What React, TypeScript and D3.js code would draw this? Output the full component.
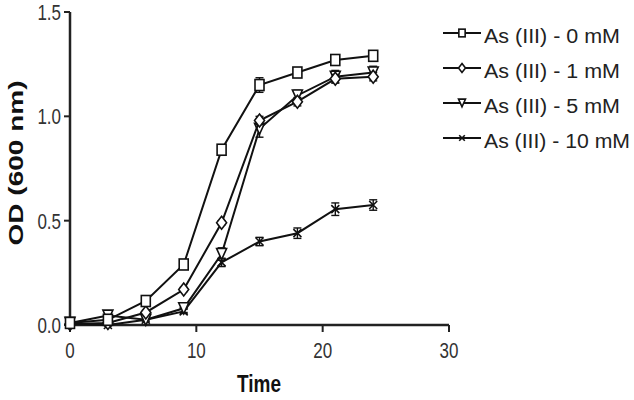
import React from "react";
import * as d3 from "d3";

const time = [0, 3, 6, 9, 12, 15, 18, 21, 24];
const od0 = [0.01, 0.025, 0.115, 0.29, 0.84, 1.15, 1.21, 1.27, 1.29];
const od1 = [0.005, 0.01, 0.06, 0.17, 0.49, 0.98, 1.07, 1.18, 1.19];
const od5 = [0.01, 0.045, 0.025, 0.08, 0.34, 0.94, 1.1, 1.19, 1.21];
const od10 = [0.005, 0.0, 0.025, 0.065, 0.3, 0.4, 0.44, 0.555, 0.575];
const err0 = [0, 0.005, 0.01, 0.01, 0.02, 0.035, 0.01, 0.01, 0.015];
const err1 = [0, 0.005, 0.01, 0.01, 0.01, 0.02, 0.02, 0.02, 0.02];
const err5 = [0, 0.01, 0.01, 0.02, 0.03, 0.04, 0.025, 0.03, 0.03];
const err10 = [0, 0.005, 0.005, 0.01, 0.02, 0.02, 0.025, 0.03, 0.025];
const seriesNames = ["As (III) - 0 mM", "As (III) - 1 mM", "As (III) - 5 mM", "As (III) - 10 mM"];
const markerTypes = ["square", "diamond", "triangle", "cross"];
const xTicks = [0, 10, 20, 30];
const yTicks = [0, 0.5, 1.0, 1.5];
const yTickLabels = ["0.0", "0.5", "1.0", "1.5"];
const xTitle = "Time";
const yTitle = "OD (600 nm)";

const values = [od0, od1, od5, od10];
const errors = [err0, err1, err5, err10];

const x = d3.scaleLinear().domain([0, 30]).range([70, 449]);
const y = d3.scaleLinear().domain([0, 1.5]).range([325, 12]);
const line = d3
  .line<[number, number]>()
  .x((d) => x(d[0]))
  .y((d) => y(d[1]));

const INK = "#111";
const FONT = "Liberation Sans, Arial, sans-serif";

function Marker({ type, cx, cy, s }: { type: string; cx: number; cy: number; s: number }) {
  if (type === "square") {
    return (
      <rect x={cx - 4.5 * s} y={cy - 5.5 * s} width={9 * s} height={11 * s} fill="#fff" stroke={INK} strokeWidth={1.6} />
    );
  }
  if (type === "diamond") {
    const w = 5 * s, h = 6.5 * s;
    return (
      <path d={`M${cx},${cy - h}L${cx + w},${cy}L${cx},${cy + h}L${cx - w},${cy}Z`} fill="#fff" stroke={INK} strokeWidth={1.6} />
    );
  }
  if (type === "triangle") {
    const w = 5 * s, h = 5.5 * s;
    return (
      <path d={`M${cx - w},${cy - h}L${cx + w},${cy - h}L${cx},${cy + h}Z`} fill="#fff" stroke={INK} strokeWidth={1.6} />
    );
  }
  const r = 4 * s;
  return (
    <path d={`M${cx - r},${cy - r}L${cx + r},${cy + r}M${cx - r},${cy + r}L${cx + r},${cy - r}`} stroke={INK} strokeWidth={1.6} fill="none" />
  );
}

export default function App() {
  const order = [3, 2, 1, 0];
  return (
    <svg width={634} height={400} style={{ position: "absolute", left: 0, top: 0, background: "#fff" }} fontFamily={FONT}>
      {/* axes */}
      <line x1={x(0)} x2={x(0)} y1={y(1.5)} y2={y(0)} stroke="#222" strokeWidth={2.5} />
      <line x1={x(0)} x2={x(30)} y1={y(0)} y2={y(0)} stroke="#222" strokeWidth={2.5} />
      {yTicks.map((v, i) => (
        <g key={"yt" + i}>
          <line x1={x(0) - 6} x2={x(0)} y1={y(v)} y2={y(v)} stroke="#222" strokeWidth={2} />
          <text
            transform={`translate(61,${y(v)}) scale(1,1.3)`}
            textAnchor="end"
            dy="0.36em"
            fontSize={17}
            fill="#333"
          >
            {yTickLabels[i]}
          </text>
        </g>
      ))}
      {xTicks.map((v, i) => (
        <g key={"xt" + i}>
          <line x1={x(v)} x2={x(v)} y1={y(0)} y2={y(0) + 7} stroke="#222" strokeWidth={2} />
          <text transform={`translate(${x(v)},358) scale(1,1.3)`} textAnchor="middle" fontSize={17} fill="#333">
            {String(v)}
          </text>
        </g>
      ))}
      <text transform="translate(259,392) scale(1,1.3)" textAnchor="middle" fontSize={19} fontWeight="bold" fill="#111">
        {xTitle}
      </text>
      <text transform="translate(23,163) rotate(-90) scale(1.4,1)" textAnchor="middle" fontSize={20} fontWeight="bold" fill="#111">
        {yTitle}
      </text>

      {/* series */}
      {order.map((k) => {
        const pts: [number, number][] = time.map((t, i) => [t, values[k][i]]);
        return (
          <g key={"s" + k}>
            <path d={line(pts) || ""} fill="none" stroke={INK} strokeWidth={2} />
            {time.map((t, i) => {
              const e = errors[k][i];
              if (e <= 0.004) return null;
              const cx = x(t);
              return (
                <g key={"e" + i} stroke={INK} strokeWidth={1.4}>
                  <line x1={cx} x2={cx} y1={y(values[k][i] - e)} y2={y(values[k][i] + e)} />
                  <line x1={cx - 4} x2={cx + 4} y1={y(values[k][i] - e)} y2={y(values[k][i] - e)} />
                  <line x1={cx - 4} x2={cx + 4} y1={y(values[k][i] + e)} y2={y(values[k][i] + e)} />
                </g>
              );
            })}
            {time.map((t, i) => (
              <Marker key={"m" + i} type={markerTypes[k]} cx={x(t)} cy={y(values[k][i])} s={1} />
            ))}
          </g>
        );
      })}

      {/* legend */}
      {seriesNames.map((name, i) => {
        const ly = 33 + i * 35;
        return (
          <g key={"l" + i}>
            <line x1={443} x2={481} y1={ly} y2={ly} stroke={INK} strokeWidth={2} />
            <Marker type={markerTypes[i]} cx={462} cy={ly} s={0.7} />
            <text x={484} y={ly + 10} fontSize={20} fill="#222" textLength={name.length > 15 ? 146 : 136} lengthAdjust="spacingAndGlyphs">
              {name}
            </text>
          </g>
        );
      })}
    </svg>
  );
}
